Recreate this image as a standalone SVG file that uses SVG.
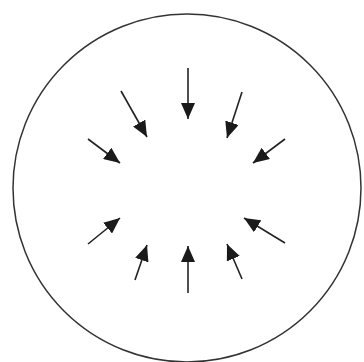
<svg xmlns="http://www.w3.org/2000/svg" width="364" height="362" viewBox="0 0 364 362">
<style>
.conn line{stroke:#222;stroke-width:1.6;marker-end:url(#ah)}
</style>
<defs>
<marker id="ah" markerUnits="userSpaceOnUse" viewBox="0 0 16 14" refX="16" refY="7" markerWidth="16" markerHeight="14" orient="auto">
<path d="M0,0 L16,7 L0,14 Z" fill="#1a1a1a"/>
</marker>
</defs>
<rect width="364" height="362" fill="#fff"/>
<g id="boundary">
<circle cx="187" cy="188" r="174" fill="none" stroke="#333" stroke-width="1.5"/>
</g>
<g id="connectors" class="conn">
<line x1="188" y1="68" x2="188" y2="119"/>
<line x1="121" y1="91" x2="147" y2="137"/>
<line x1="242" y1="92" x2="227" y2="138"/>
<line x1="88" y1="139" x2="120" y2="163"/>
<line x1="285" y1="139" x2="253" y2="163"/>
<line x1="88" y1="244" x2="120" y2="218"/>
<line x1="285" y1="243" x2="244" y2="218"/>
<line x1="135" y1="280" x2="147" y2="245"/>
<line x1="188" y1="293" x2="188" y2="246"/>
<line x1="242" y1="279" x2="227" y2="244"/>
</g>
</svg>
